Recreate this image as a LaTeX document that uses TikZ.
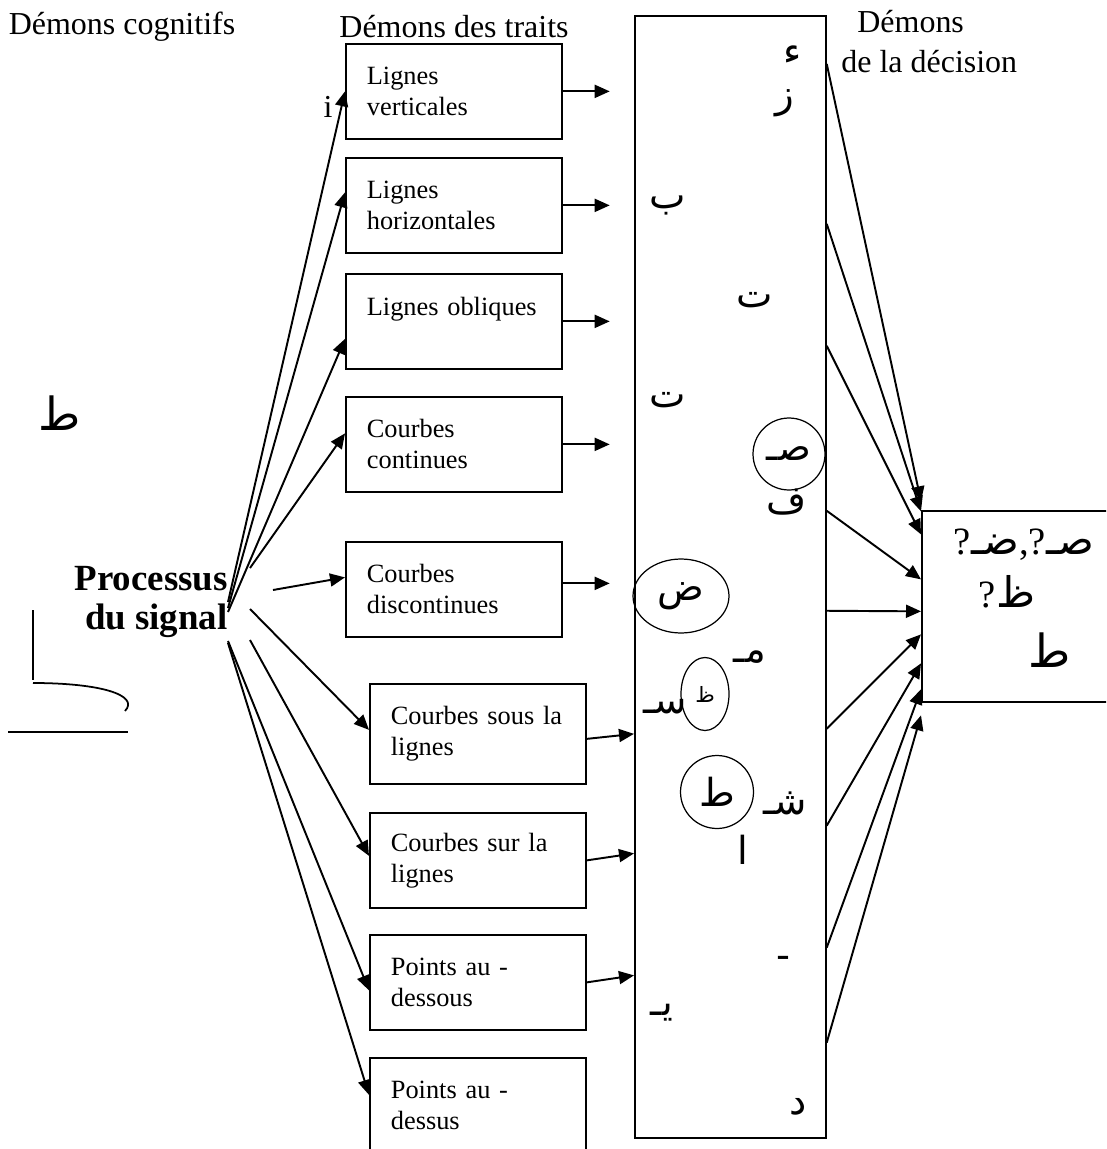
\documentclass[tikz,border=0pt]{standalone}
\usepackage{fontspec}
\setmainfont{Liberation Serif}
\newfontfamily\arabicfont[Script=Arabic]{DejaVu Sans}
\TeXXeTstate=1
\usetikzlibrary{positioning,shapes.geometric,arrows.meta}

\begin{document}
\begin{tikzpicture}[x=0.02cm,y=-0.02cm,
box/.style={draw,rectangle,line width=1pt,anchor=north west,minimum width=4.32cm,minimum height=1.9cm,text width=3.48cm,align=left,inner sep=0pt,font=\fontsize{15}{17.6}\selectfont},
head/.style={inner sep=0pt,font=\fontsize{18.2}{22.7}\selectfont},
ar/.style={inner sep=0pt,font=\arabicfont\fontsize{22}{26}\selectfont},
ring/.style={draw,line width=0.7pt,inner sep=0pt},
link/.style={line width=1.1pt,-{Triangle[length=0.3cm,width=0.26cm]}},
plain/.style={line width=1pt}]
\useasboundingbox (0,0) rectangle (1106,1149);
\clip (0,0) rectangle (1106,1149);

% titres
\node (tcog) [head] at (122,27) {Démons cognitifs};
\node (ttr) [head] at (454,27) {Démons des traits};
\node (tdec) [head,anchor=north west,align=left] at (841,10) {\hspace*{0.32cm}Démons\\de la décision};

% processus du signal
\node (proc) [inner sep=0pt,anchor=east,align=right,font=\bfseries\fontsize{21}{22.2}\selectfont] at (228,602) {Processus\\du signal};
\node (tah) [ar,font=\arabicfont\fontsize{26}{30}\selectfont] at (60,413) {\beginR ط\endR};
\node (ii) [head] at (328,107) {i};
\draw[plain] (33,610) -- (33,680);
\draw[plain] (33,683) .. controls (100,683) and (140,695) .. (125,711);
\draw[plain] (8,732) -- (128,732);

% demons des traits
\node (vert) [box] at (345,43) {Lignes\\verticales};
\node (horiz) [box] at (345,157) {Lignes\\horizontales};
\node (obliq) [box] at (345,273) {Lignes obliques\\\mbox{}};
\node (cont) [box] at (345,396) {Courbes\\continues};
\node (discont) [box] at (345,541) {Courbes\\discontinues};
\node (sous) [box,minimum height=2cm] at (369,683) {Courbes sous la\\lignes};
\node (sur) [box] at (369,812) {Courbes sur la\\lignes};
\node (dessous) [box] at (369,934) {Points au -\\dessous};
\node (dessus) [box] at (369,1057) {Points au -\\dessus};

% lettres
\node (rec) [draw,line width=1pt,anchor=north west,minimum width=3.82cm,minimum height=22.44cm] at (634,15) {};
\node (hamza) [ar] at (793,55) {\beginR ء\endR};
\node (zay) [ar] at (785,103) {\beginR ز\endR};
\node (ba) [ar] at (668,205) {\beginR ب\endR};
\node (taa) [ar] at (755,300) {\beginR ت\endR};
\node (tab) [ar] at (668,400) {\beginR ت\endR};
\node (csad) [ar,ring,circle,minimum size=1.44cm] at (789,454) {\beginR صـ\endR};
\node (fa) [ar] at (787,502) {\beginR ف\endR};
\node (edad) [ar,ring,ellipse,minimum width=1.92cm,minimum height=1.48cm] at (681,596) {\beginR ض\endR};
\node (mim) [ar] at (750,657) {\beginR مـ\endR};
\node (sin) [ar] at (665,707) {\beginR سـ\endR};
\node (ezah) [ar,ring,ellipse,minimum width=0.96cm,minimum height=1.46cm,font=\arabicfont\fontsize{12}{14}\selectfont] at (705,694) {\beginR ظ\endR};
\node (ctah) [ar,ring,circle,minimum size=1.46cm] at (717,792) {\beginR ط\endR};
\node (shin) [ar] at (785,803) {\beginR شـ\endR};
\node (alif) [ar] at (743,850) {\beginR ا\endR};
\node (dash) [ar] at (783,962) {-};
\node (ya) [ar] at (662,1013) {\beginR يـ\endR};
\node (dal) [ar] at (798,1107) {\beginR د\endR};

% decision
\node (dec) [draw,line width=1pt,anchor=north west,minimum width=3.98cm,minimum height=3.82cm] at (921,510) {};
\node (rep) [inner sep=0pt,font=\fontsize{22}{26}\selectfont] at (1024,545) {?{\arabicfont\fontsize{24}{28}\selectfont\beginR ضـ\endR},?{\arabicfont\fontsize{24}{28}\selectfont\beginR صـ\endR}};
\node (repb) [inner sep=0pt,font=\fontsize{22}{26}\selectfont] at (1007,592) {?{\arabicfont\fontsize{24}{28}\selectfont\beginR ظ\endR}};
\node (rept) [ar,font=\arabicfont\fontsize{26}{30}\selectfont] at (1050,650) {\beginR ط\endR};

% fleches vers les traits
\draw[link] (proc.east) -- (vert.west);
\draw[link] ([yshift=-0.12cm]proc.east) -- ([yshift=0.26cm]horiz.west);
\draw[link] ([yshift=-0.2cm]proc.east) -- ([yshift=-0.35cm]obliq.west);
\draw[link] ([xshift=0.44cm,yshift=0.68cm]proc.east) -- ([yshift=0.22cm]cont.west);
\draw[link] ([xshift=0.9cm,yshift=0.24cm]proc.east) -- ([yshift=0.24cm]discont.west);
\draw[link] ([xshift=0.44cm,yshift=-0.14cm]proc.east) -- ([yshift=0.08cm]sous.west);
\draw[link] ([xshift=0.44cm,yshift=-0.76cm]proc.east) -- ([yshift=0.09cm]sur.west);
\draw[link] ([yshift=-0.78cm]proc.east) -- ([yshift=-0.16cm]dessous.west);
\draw[link] ([yshift=-0.82cm]proc.east) -- ([yshift=0.21cm]dessus.west);

% fleches vers les lettres
\draw[link] (vert.east) -- ([xshift=0.94cm]vert.east);
\draw[link] (horiz.east) -- ([xshift=0.94cm]horiz.east);
\draw[link] (obliq.east) -- ([xshift=0.94cm]obliq.east);
\draw[link] (cont.east) -- ([xshift=0.94cm]cont.east);
\draw[link] ([yshift=0.12cm]discont.east) -- ([xshift=0.94cm,yshift=0.12cm]discont.east);
\draw[link] ([yshift=-0.1cm]sous.east) -- (sous.east -| rec.west);
\draw[link] (sur.east) -- ([yshift=0.14cm]sur.east -| rec.west);
\draw[link] (dessous.east) -- ([yshift=0.14cm]dessous.east -| rec.west);

% fleches vers la decision
\draw[link] ([yshift=10.26cm]rec.east) -- ([yshift=2.1cm]dec.west);
\draw[link] ([yshift=7.06cm]rec.east) -- ([yshift=1.9cm]dec.west);
\draw[link] ([yshift=4.62cm]rec.east) -- ([yshift=1.44cm]dec.west);
\draw[link] ([yshift=1.32cm]rec.east) -- ([yshift=0.54cm]dec.west);
\draw[link] ([yshift=-0.68cm]rec.east) -- ([yshift=-0.1cm]dec.west);
\draw[link] ([yshift=-3.04cm]rec.east) -- ([yshift=-0.56cm]dec.west);
\draw[link] ([yshift=-4.98cm]rec.east) -- ([yshift=-1.14cm]dec.west);
\draw[link] ([yshift=-7.42cm]rec.east) -- ([yshift=-1.66cm]dec.west);
\draw[link] ([yshift=-9.32cm]rec.east) -- ([yshift=-2.18cm]dec.west);
\end{tikzpicture}
\end{document}
